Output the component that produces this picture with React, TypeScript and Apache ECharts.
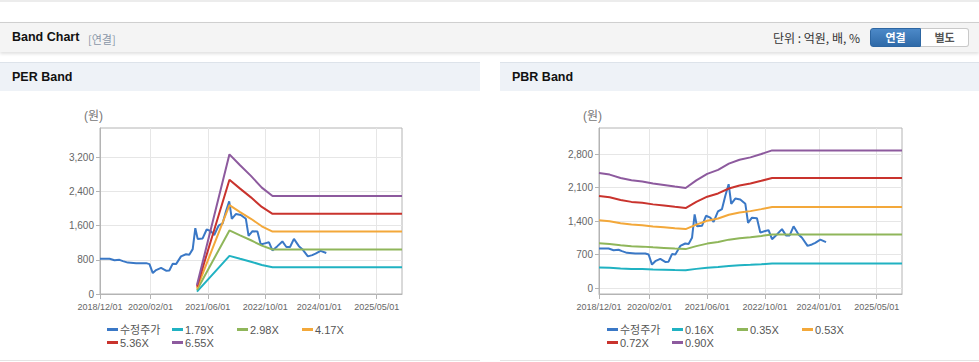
import React, { useEffect, useRef } from 'react';
import * as echarts from 'echarts';

const FONT = '"Liberation Sans", Arial, "Noto Sans CJK KR", sans-serif';

const xStart = '2018-12-01';
const xEnd = '2025-12-01';
const xTickDates = ['2018-12-01', '2020-02-01', '2021-06-01', '2022-10-01', '2024-01-01', '2025-05-01'];

const priceName = '수정주가';
const priceDates = [
  '2018-12-01', '2019-02-20', '2019-04-03', '2019-05-15', '2019-06-13', '2019-07-25', '2019-10-03', '2019-12-27',
  '2020-01-24', '2020-02-21', '2020-03-20', '2020-05-01', '2020-06-12', '2020-07-10', '2020-08-08', '2020-09-05',
  '2020-10-17', '2020-11-28', '2020-12-26', '2021-01-24', '2021-02-15', '2021-03-07', '2021-04-18', '2021-05-22',
  '2021-06-27', '2021-07-25', '2021-08-31', '2021-10-04', '2021-11-01', '2021-11-29', '2021-12-21', '2022-01-24',
  '2022-03-07', '2022-04-19', '2022-05-12', '2022-06-14', '2022-07-26', '2022-08-23', '2022-10-04', '2022-11-01',
  '2022-11-30', '2023-01-11', '2023-02-22', '2023-03-28', '2023-04-28', '2023-05-31', '2023-07-12', '2023-08-10',
  '2023-09-26', '2023-11-02', '2023-11-30', '2024-01-12', '2024-02-29',
];
const priceValues = [
  825, 825, 790, 800, 770, 735, 722, 722,
  700, 490, 560, 610, 545, 550, 710, 700,
  880, 930, 920, 1050, 1540, 1290, 1300, 1510,
  1470, 1380, 1600, 1650, 1930, 2170, 1760, 1870,
  1850, 1760, 1360, 1470, 1460, 1160, 1190, 1210,
  1020, 1120, 1230, 1100, 1100, 1290, 1120, 1050,
  880, 910, 945, 1010, 960,
];

const perBandDates = ['2021-03-01', '2021-12-01', '2022-03-01', '2022-06-01', '2022-09-01', '2022-12-01', '2025-12-01'];
const perBandNames = ['1.79X', '2.98X', '4.17X', '5.36X', '6.55X'];
const perBand179 = [57, 893, 823, 755, 680, 627, 627];
const perBand298 = [95, 1487, 1371, 1258, 1132, 1043, 1043];
const perBand417 = [133, 2081, 1918, 1760, 1585, 1460, 1460];
const perBand536 = [172, 2675, 2466, 2262, 2037, 1876, 1876];
const perBand655 = [210, 3268, 3013, 2764, 2489, 2293, 2293];

const pbrBandDates = [
  '2018-12-01', '2019-03-01', '2019-06-01', '2019-09-01', '2019-12-01', '2020-03-01', '2020-06-01', '2020-09-01',
  '2020-12-01', '2021-03-01', '2021-06-01', '2021-09-01', '2021-12-01', '2022-03-01', '2022-06-01', '2022-09-01',
  '2022-12-01', '2025-12-01',
];
const pbrBandNames = ['0.16X', '0.35X', '0.53X', '0.72X', '0.90X'];
const pbrBand016 = [427, 421, 409, 400, 396, 388, 383, 377, 372, 400, 424, 439, 462, 476, 485, 498, 511, 511];
const pbrBand035 = [935, 922, 895, 875, 865, 850, 838, 825, 813, 875, 928, 960, 1011, 1042, 1062, 1089, 1119, 1119];
const pbrBand053 = [1415, 1395, 1355, 1325, 1310, 1287, 1269, 1249, 1231, 1325, 1405, 1454, 1531, 1578, 1607, 1649, 1694, 1694];
const pbrBand072 = [1922, 1896, 1840, 1800, 1780, 1748, 1724, 1696, 1672, 1800, 1908, 1976, 2080, 2144, 2184, 2240, 2301, 2301];
const pbrBand090 = [2403, 2370, 2300, 2250, 2225, 2185, 2155, 2120, 2090, 2250, 2385, 2470, 2600, 2680, 2730, 2800, 2876, 2876];

const perYTicks = [0, 800, 1600, 2400, 3200];
const pbrYTicks = [0, 700, 1400, 2100, 2800];

const priceColor = '#3a78c6';
const bandColors = ['#20b2c2', '#8fb65a', '#f3a83a', '#c9332d', '#8d5a9e'];

function ts(s: string): number {
  const [y, m, d] = s.split('-').map(Number);
  return Date.UTC(y, m - 1, d);
}
function pad(n: number) {
  return n < 10 ? '0' + n : '' + n;
}
function fmtDate(v: number) {
  const d = new Date(v);
  return `${d.getUTCFullYear()}/${pad(d.getUTCMonth() + 1)}/${pad(d.getUTCDate())}`;
}
function pairs(dates: string[], vals: number[]) {
  return dates.map((d, i) => [ts(d), vals[i]]);
}

const axisColor = '#b4b4b4';
const gridColor = '#e6e6e6';
const labelColor = '#666';

function xAxis(gridIndex: number) {
  const ticks = xTickDates.map(ts);
  return {
    type: 'value',
    gridIndex,
    min: ts(xStart),
    max: ts(xEnd),
    axisLine: { show: true, onZero: false, lineStyle: { color: axisColor } },
    axisTick: { show: true, length: 5, lineStyle: { color: axisColor }, customValues: ticks },
    axisLabel: {
      customValues: ticks,
      formatter: (v: number) => fmtDate(v),
      color: labelColor,
      fontSize: 9,
      fontFamily: FONT,
      margin: 8,
      hideOverlap: false,
    },
    splitLine: { show: true, lineStyle: { color: gridColor } },
  };
}

function yAxis(gridIndex: number, min: number, max: number, ticks: number[]) {
  return {
    type: 'value',
    gridIndex,
    min,
    max,
    axisLine: { show: true, onZero: false, lineStyle: { color: axisColor } },
    axisTick: { show: true, length: 4, lineStyle: { color: axisColor }, customValues: ticks },
    axisLabel: {
      customValues: ticks,
      formatter: (v: number) => v.toLocaleString('en-US'),
      color: labelColor,
      fontSize: 10,
      fontFamily: FONT,
      margin: 6,
    },
    splitLine: { show: true, lineStyle: { color: gridColor } },
  };
}

function lineSeries(name: string, data: number[][], color: string, idx: number) {
  return {
    type: 'line',
    name,
    data,
    xAxisIndex: idx,
    yAxisIndex: idx,
    showSymbol: false,
    symbol: 'none',
    lineStyle: { color, width: 2 },
    itemStyle: { color },
    emphasis: { disabled: true },
  };
}

function legendItem(name: string, left: number, top: number) {
  return {
    left,
    top,
    data: [name],
    itemWidth: 11,
    itemHeight: 3,
    itemGap: 0,
    icon: 'rect',
    padding: 0,
    textStyle: { fontSize: 11, color: '#555', fontFamily: FONT, padding: [0, 0, 0, -3] },
  };
}

export default function App() {
  const ref = useRef<HTMLDivElement>(null);

  useEffect(() => {
    document.body.style.margin = '0';
    if (!ref.current) return;
    const chart = echarts.init(ref.current, undefined, { renderer: 'svg' });
    const perBands = [perBand179, perBand298, perBand417, perBand536, perBand655];
    const pbrBands = [pbrBand016, pbrBand035, pbrBand053, pbrBand072, pbrBand090];
    const series: any[] = [];
    series.push(lineSeries(priceName, pairs(priceDates, priceValues), priceColor, 0));
    perBands.forEach((b, i) => series.push(lineSeries(perBandNames[i], pairs(perBandDates, b), bandColors[i], 0)));
    series.push(lineSeries(priceName, pairs(priceDates, priceValues), priceColor, 1));
    pbrBands.forEach((b, i) => series.push(lineSeries(pbrBandNames[i], pairs(pbrBandDates, b), bandColors[i], 1)));

    const legends: any[] = [];
    const perNames = [priceName, ...perBandNames];
    const pbrNames = [priceName, ...pbrBandNames];
    perNames.forEach((n, i) => legends.push(legendItem(n, 107 + 65 * (i % 4), i < 4 ? 324 : 337)));
    pbrNames.forEach((n, i) => legends.push(legendItem(n, 607 + 65 * (i % 4), i < 4 ? 324 : 337)));

    chart.setOption({
      animation: false,
      backgroundColor: 'transparent',
      grid: [
        { left: 100, top: 128, width: 302, height: 166, show: true, borderColor: axisColor, borderWidth: 1, backgroundColor: 'transparent' },
        { left: 599, top: 128, width: 303, height: 166, show: true, borderColor: axisColor, borderWidth: 1, backgroundColor: 'transparent' },
      ],
      xAxis: [xAxis(0), xAxis(1)],
      yAxis: [yAxis(0, 0, 3885, perYTicks), yAxis(1, -125, 3344, pbrYTicks)],
      legend: legends,
      graphic: [
        { type: 'text', left: 84, top: 110, style: { text: '(원)', fill: '#777', font: '12px ' + FONT } },
        { type: 'text', left: 583, top: 110, style: { text: '(원)', fill: '#777', font: '12px ' + FONT } },
      ],
      series,
    });
    return () => chart.dispose();
  }, []);

  const panelHead = (left: number, width: number, title: string) => (
    <div
      style={{
        position: 'absolute', left, top: 62, width, height: 29, background: '#eef2f7',
        borderTop: '1px solid #dde3ea', boxSizing: 'border-box',
      }}
    >
      <span style={{ position: 'absolute', left: 12, top: 7, fontSize: 12.5, fontWeight: 'bold', color: '#111', fontFamily: FONT }}>{title}</span>
    </div>
  );

  return (
    <div style={{ position: 'relative', width: 979, height: 362, background: '#fff', overflow: 'hidden', fontFamily: FONT }}>
      <div style={{ position: 'absolute', left: 0, top: 0, width: 979, height: 2, background: '#ececec' }} />
      <div
        style={{
          position: 'absolute', left: 0, top: 22, width: 979, height: 30, background: '#f4f4f4',
          borderTop: '1px solid #cfcfcf', boxSizing: 'border-box', boxShadow: '0 2px 3px rgba(0,0,0,0.12)',
        }}
      >
        <span style={{ position: 'absolute', left: 12, top: 7, fontSize: 12.5, fontWeight: 'bold', color: '#111' }}>Band Chart</span>
        <span style={{ position: 'absolute', left: 88, top: 8, fontSize: 11, color: '#8a97a8', fontFamily: '"Noto Sans CJK KR", sans-serif' }}>[연결]</span>
        <span style={{ position: 'absolute', left: 773, top: 6, fontSize: 12, color: '#333', fontFamily: '"Noto Sans CJK KR", sans-serif' }}>단위 : 억원, 배, %</span>
        <div
          style={{
            position: 'absolute', left: 870, top: 5, width: 51, height: 19, boxSizing: 'border-box',
            background: 'linear-gradient(#4c89c8, #2f6aa8)', border: '1px solid #2d66a2', borderRadius: '3px 0 0 3px',
            color: '#fff', fontSize: 11, fontWeight: 'bold', textAlign: 'center', lineHeight: '17px',
            fontFamily: '"Noto Sans CJK KR", sans-serif',
          }}
        >
          연결
        </div>
        <div
          style={{
            position: 'absolute', left: 921, top: 5, width: 48, height: 19, boxSizing: 'border-box',
            background: '#fff', border: '1px solid #c9c9c9', borderLeft: 'none', borderRadius: '0 3px 3px 0',
            color: '#555', fontSize: 11, fontWeight: 'bold', textAlign: 'center', lineHeight: '17px',
            fontFamily: '"Noto Sans CJK KR", sans-serif',
          }}
        >
          별도
        </div>
      </div>
      {panelHead(0, 480, 'PER Band')}
      {panelHead(500, 479, 'PBR Band')}
      <div style={{ position: 'absolute', left: 0, top: 360, width: 480, height: 1, background: '#e4e4e4' }} />
      <div style={{ position: 'absolute', left: 500, top: 360, width: 479, height: 1, background: '#e4e4e4' }} />
      <div ref={ref} style={{ position: 'absolute', left: 0, top: 0, width: 979, height: 362 }} />
    </div>
  );
}
